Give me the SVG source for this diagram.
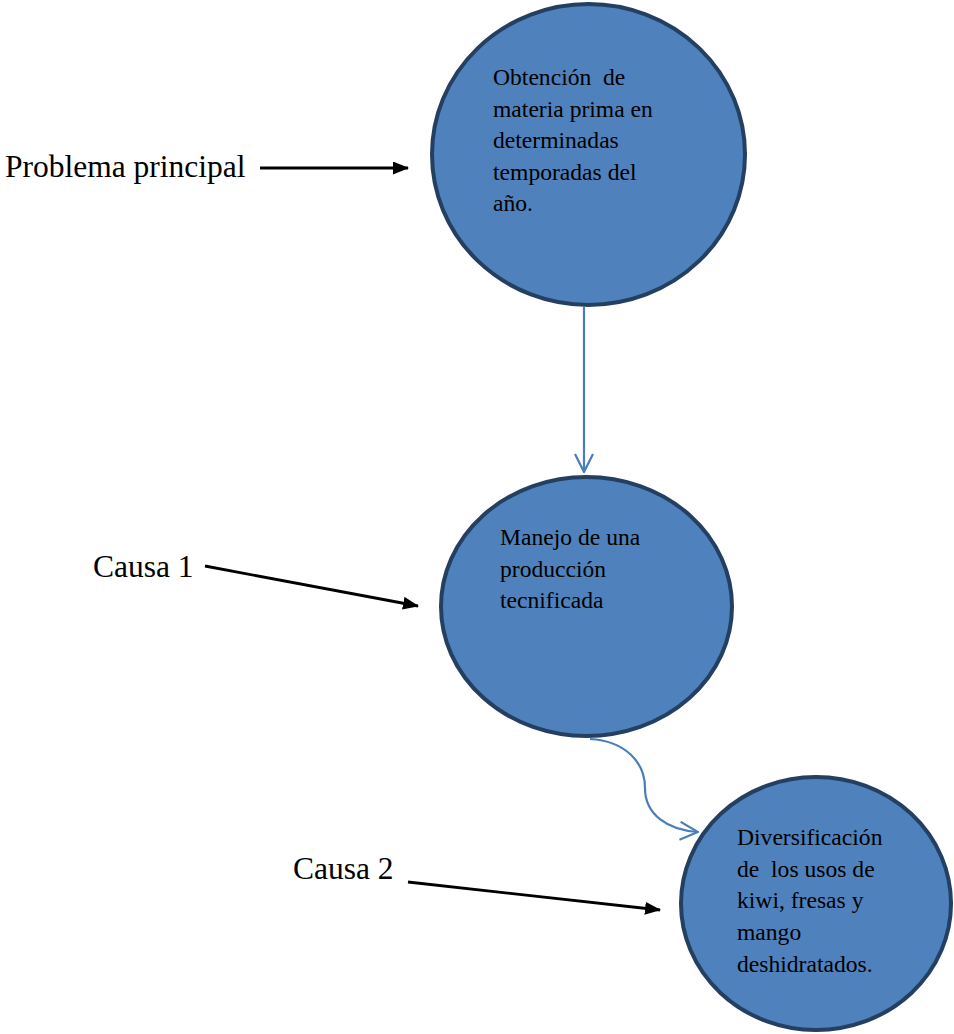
<svg xmlns="http://www.w3.org/2000/svg" width="954" height="1034" viewBox="0 0 954 1034">
<style>
.node{fill:#4f81bd;stroke:#243f60;stroke-width:4}
.nt{font-family:"Liberation Serif","Times New Roman",serif;font-size:23.6px;fill:#000}
.lbl{font-family:"Liberation Serif","Times New Roman",serif;font-size:31.5px;fill:#000}
.blk{stroke:#000;stroke-width:2.8;fill:none}
.blu{stroke:#4a7ebb;stroke-width:2.2;fill:none}
</style>
<defs>
<marker id="ah" viewBox="0 0 16 13" refX="15" refY="6.5" markerWidth="16" markerHeight="13" markerUnits="userSpaceOnUse" orient="auto">
<path d="M0,0 L16,6.5 L0,13 Z" fill="#000"/>
</marker>
<marker id="bh" viewBox="0 0 20 20" refX="19" refY="10" markerWidth="20" markerHeight="20" markerUnits="userSpaceOnUse" orient="auto">
<path d="M1,1 L19,10 L1,19" fill="none" stroke="#4a7ebb" stroke-width="2.2"/>
</marker>
</defs>
<rect width="954" height="1034" fill="#fff"/>
<g id="connectors">
<line class="blk" x1="260" y1="168" x2="408" y2="168" marker-end="url(#ah)"/>
<line class="blk" x1="205" y1="566" x2="418" y2="606" marker-end="url(#ah)"/>
<line class="blk" x1="408" y1="882" x2="660" y2="910" marker-end="url(#ah)"/>
<line class="blu" x1="584" y1="307" x2="584" y2="472" marker-end="url(#bh)"/>
<path class="blu" d="M590,739 C625,741 645,762 645,788 C645,815 668,830 698,832" marker-end="url(#bh)"/>
</g>
<g id="label-problema">
<text class="lbl" x="5" y="177">Problema principal</text>
</g>
<g id="label-causa1">
<text class="lbl" x="93" y="577">Causa 1</text>
</g>
<g id="label-causa2">
<text class="lbl" x="293" y="879">Causa 2</text>
</g>
<g id="node-problema">
<ellipse class="node" cx="588.5" cy="154.5" rx="156.5" ry="150.5"/>
<text class="nt" x="493" y="85" xml:space="preserve">Obtención  de</text>
<text class="nt" x="493" y="116.5">materia prima en</text>
<text class="nt" x="493" y="148">determinadas</text>
<text class="nt" x="493" y="179.5">temporadas del</text>
<text class="nt" x="493" y="211">año.</text>
</g>
<g id="node-causa1">
<ellipse class="node" cx="586.5" cy="606.5" rx="145.5" ry="129.5"/>
<text class="nt" x="500" y="545">Manejo de una</text>
<text class="nt" x="500" y="577">producción</text>
<text class="nt" x="500" y="608">tecnificada</text>
</g>
<g id="node-causa2">
<ellipse class="node" cx="816" cy="903.5" rx="135" ry="126.5"/>
<text class="nt" x="737" y="845">Diversificación</text>
<text class="nt" x="737" y="877" xml:space="preserve">de  los usos de</text>
<text class="nt" x="737" y="908">kiwi, fresas y</text>
<text class="nt" x="737" y="940">mango</text>
<text class="nt" x="737" y="972">deshidratados.</text>
</g>
</svg>
